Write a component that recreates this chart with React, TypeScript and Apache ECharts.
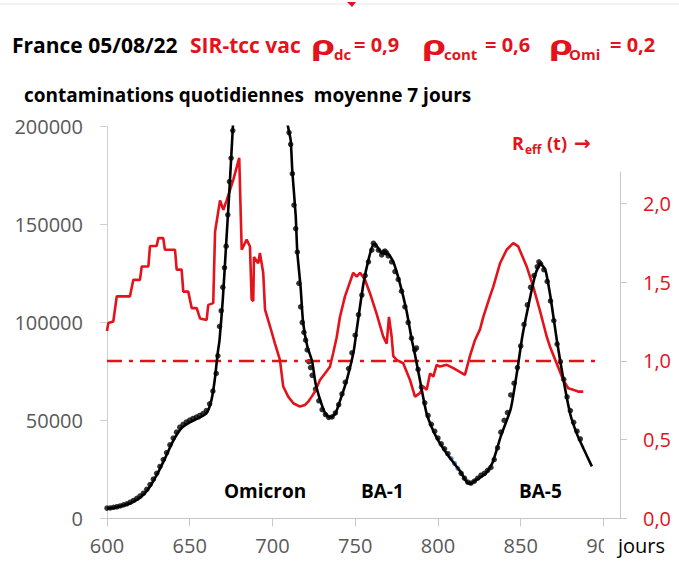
import React, { useEffect, useRef } from "react";
import * as echarts from "echarts";

// Axis ticks
const xTicks = [600, 650, 700, 750, 800, 850, 900];
const leftTicks = [0, 50000, 100000, 150000, 200000];
const rightTicks = [0, 0.5, 1, 1.5, 2];

// Model curve (black line): day, daily contaminations
const modelDays = [600, 605, 610, 615, 620, 625, 630, 635, 640, 645, 650, 655, 660, 663, 665, 667, 668, 670, 672, 674, 676, 678, 685, 695, 703, 707, 709, 711, 712, 714, 715, 717, 718.5, 721, 724, 726, 729, 732, 735, 738, 741, 745, 749, 751, 755, 758, 761, 763, 766, 770, 773, 777, 781, 784, 786, 789, 793, 797, 801, 807, 813, 817, 819, 823, 829, 833, 838, 844, 848, 851, 856, 859, 862, 865, 868, 872, 876, 880, 884, 888, 893];
const modelVals = [5000, 5500, 6500, 8000, 10500, 15000, 22000, 30500, 39500, 46000, 49000, 51000, 53500, 60000, 70000, 85000, 91000, 112000, 140000, 168000, 199000, 230000, 320000, 360000, 300000, 230000, 202000, 193000, 177000, 155000, 136000, 118000, 100000, 88000, 80000, 69000, 60000, 53500, 51500, 53500, 60500, 71000, 85000, 97000, 120000, 132000, 140000, 139000, 135500, 135000, 131000, 120000, 106000, 92000, 84000, 71000, 54000, 45000, 38500, 31000, 24500, 19000, 17500, 19500, 23000, 28500, 42000, 56000, 76000, 93000, 114000, 125000, 130000, 126500, 113000, 90000, 70000, 53000, 43000, 35500, 26500];

// Observed data (black dots)
const dotDays = [600, 602, 604, 606, 608, 610, 612, 614, 616, 618, 620, 622, 624, 626, 628, 630, 632, 634, 636, 638, 640, 642, 644, 646, 648, 650, 652, 654, 656, 658, 660, 662, 664, 666, 667, 668, 669, 670, 671, 672, 673, 674, 675, 676, 710, 711, 712, 713, 714, 715, 716, 717, 718, 719, 720, 721, 722, 723, 724, 726, 728, 730, 732, 734, 736, 738, 740, 742, 744, 746, 748, 750, 752, 754, 756, 758, 760, 761, 762, 764, 766, 767, 768, 769, 770, 772, 774, 776, 778, 780, 782, 784, 786, 787, 788, 790, 792, 794, 796, 798, 800, 802, 804, 806, 814, 816, 818, 820, 822, 824, 826, 828, 830, 832, 834, 836, 838, 840, 842, 844, 846, 848, 850, 852, 854, 856, 858, 860, 861, 862, 864, 866, 868, 870, 872, 874, 876, 878, 880, 882, 884, 886];
const dotVals = [5200, 5300, 5600, 5900, 6300, 6900, 7400, 8200, 9100, 10200, 11400, 12800, 14800, 17200, 20000, 23000, 26500, 30000, 33500, 37500, 41000, 44000, 46500, 48000, 49200, 50200, 51000, 51700, 52500, 53500, 55000, 58500, 65000, 74000, 83000, 98000, 106000, 118000, 128000, 139000, 155000, 172000, 184000, 198000, 197000, 191000, 176000, 160000, 148000, 136000, 120000, 108000, 100000, 95000, 91000, 86000, 80000, 77000, 73000, 66000, 60000, 55500, 53000, 51500, 51800, 53800, 58000, 63500, 69500, 76500, 84500, 93500, 104000, 114000, 124000, 131000, 137000, 140500, 139500, 137000, 134500, 136000, 136500, 135500, 134000, 131000, 126000, 122000, 116000, 108000, 100000, 92000, 86000, 87000, 76000, 67000, 59000, 52500, 48000, 44500, 41000, 38000, 35500, 33000, 23000, 20500, 18500, 18000, 19000, 20500, 22000, 23000, 24500, 26000, 30000, 36000, 44000, 50000, 54000, 63000, 69000, 77000, 88000, 99000, 109000, 118000, 124000, 128500, 131000, 130000, 127000, 121000, 111000, 101000, 89000, 80000, 71000, 62000, 55000, 49000, 44500, 40500];

// A few blue dots
const blueDays = [808, 810, 812];
const blueVals = [30500, 28000, 25500];

// R_eff(t) (red curve)
const reffDays = [600, 600.8, 603.8, 605.9, 613.9, 615.9, 619.9, 621, 625, 626, 630, 631, 634, 635, 641.1, 642.1, 645.1, 646.1, 649.1, 651.2, 654.2, 656.2, 660.2, 661.2, 664.2, 665.3, 668.3, 670.3, 672.3, 676.3, 679.9, 681.4, 684.4, 686.4, 687.4, 688.4, 688.8, 691.4, 692.4, 694.4, 695.5, 698.5, 701.5, 704.5, 706.5, 709.5, 712.6, 716.6, 719.6, 721.6, 723.7, 725.7, 728.7, 731.7, 734.7, 736.7, 738.8, 740.8, 743.8, 745.8, 748.8, 750.9, 752.9, 755.9, 758.9, 762.9, 766.9, 769, 770.4, 772, 773, 775, 779, 783.1, 786.1, 789.1, 791.1, 793.2, 795.2, 797.2, 799.2, 801.2, 805.3, 809.3, 816.3, 819.3, 822.4, 825.4, 827.4, 831.4, 833.4, 837.5, 841.5, 845.5, 848.5, 853.6, 857.6, 861.6, 865.7, 867.7, 871.7, 875.7, 878.7, 881.8, 884.8, 887.8];
const reffVals = [1.19, 1.24, 1.25, 1.41, 1.41, 1.515, 1.515, 1.6, 1.6, 1.73, 1.73, 1.78, 1.78, 1.706, 1.706, 1.58, 1.58, 1.44, 1.44, 1.335, 1.335, 1.27, 1.26, 1.356, 1.367, 1.82, 2.02, 1.96, 2.02, 2.15, 2.29, 1.706, 1.77, 1.727, 1.39, 1.38, 1.66, 1.62, 1.685, 1.56, 1.325, 1.22, 1.11, 1.006, 0.837, 0.773, 0.731, 0.71, 0.72, 0.741, 0.773, 0.805, 0.879, 0.92, 0.963, 1.05, 1.15, 1.28, 1.41, 1.47, 1.56, 1.535, 1.56, 1.515, 1.43, 1.3, 1.155, 1.11, 1.28, 1.155, 1.03, 1.006, 0.985, 0.879, 0.773, 0.795, 0.837, 0.816, 0.92, 0.9, 0.975, 0.964, 0.975, 0.954, 0.911, 1.03, 1.133, 1.2, 1.28, 1.41, 1.47, 1.62, 1.706, 1.748, 1.727, 1.6, 1.47, 1.32, 1.155, 1.09, 0.985, 0.879, 0.826, 0.816, 0.805, 0.805];

// Reference line R = 1
const refDays = [600, 898];
const refVals = [1, 1];

const RED = "#e3121b";
const GRAY = "#595959";
const FONT = "'Open Sans', 'Liberation Sans', sans-serif";

const zip = (a: number[], b: number[]) => a.map((v, i) => [v, b[i]]);

function txt(text: string, x: number, baseline: number, size: number, color: string, bold = true, extra: any = {}, el: any = {}) {
  return {
    type: "text",
    x,
    y: baseline - 0.38 * size,
    z: 100,
    ...el,
    style: {
      text,
      fill: color,
      fontSize: size,
      fontWeight: bold ? "bold" : "normal",
      fontFamily: FONT,
      align: "left",
      verticalAlign: "middle",
      textAlign: "left",
      textVerticalAlign: "middle",
      ...extra,
    },
  };
}

export default function App() {
  const ref = useRef<HTMLDivElement>(null);
  useEffect(() => {
    if (!ref.current) return;
    const chart = echarts.init(ref.current, undefined, { renderer: "svg" });
    const rho = { scaleX: 1.45 };
    const option: any = {
      animation: false,
      backgroundColor: "#ffffff",
      textStyle: { fontFamily: FONT },
      grid: [
        { left: 107, right: 59, top: 126.7, bottom: 45.7 },
        { left: 107, right: 59, top: 172, bottom: 45.7 },
      ],
      xAxis: [
        {
          type: "value",
          gridIndex: 0,
          min: 600,
          max: 910,
          interval: 50,
          axisLine: { show: true, lineStyle: { color: "#c8c8c8", width: 1 } },
          axisTick: { show: true, length: 8, lineStyle: { color: "#c8c8c8" }, customValues: xTicks },
          axisLabel: { color: GRAY, fontSize: 20, fontFamily: FONT, margin: 17, customValues: xTicks, formatter: (v: number) => String(v) },
          splitLine: { show: false },
        },
        {
          type: "value",
          gridIndex: 1,
          min: 600,
          max: 910,
          show: false,
          splitLine: { show: false },
        },
      ],
      yAxis: [
        {
          type: "value",
          gridIndex: 0,
          min: 0,
          max: 200000,
          interval: 50000,
          axisLine: { show: true, lineStyle: { color: "#d0d0d0", width: 1 } },
          axisTick: { show: true, length: 7, lineStyle: { color: "#d0d0d0" }, customValues: leftTicks },
          axisLabel: { color: GRAY, fontSize: 20, fontFamily: FONT, margin: 24, customValues: leftTicks, formatter: (v: number) => String(v) },
          splitLine: { show: false },
        },
        {
          type: "value",
          gridIndex: 1,
          position: "right",
          min: 0,
          max: 2.2,
          interval: 0.5,
          axisLine: { show: true, lineStyle: { color: "#c8c8c8", width: 1 } },
          axisTick: { show: true, length: 7, lineStyle: { color: "#c8c8c8" }, customValues: rightTicks },
          axisLabel: {
            color: RED,
            fontSize: 20,
            fontFamily: FONT,
            margin: 23,
            customValues: rightTicks,
            formatter: (v: number) => v.toFixed(1).replace(".", ","),
          },
          splitLine: { show: false },
        },
      ],
      series: [
        {
          type: "line",
          name: "ref",
          xAxisIndex: 1,
          yAxisIndex: 1,
          data: zip(refDays, refVals),
          showSymbol: false,
          symbol: "none",
          lineStyle: { color: RED, width: 2.5, type: [15, 7, 4, 7] },
          silent: true,
        },
        {
          type: "line",
          name: "Reff",
          xAxisIndex: 1,
          yAxisIndex: 1,
          data: zip(reffDays, reffVals),
          showSymbol: false,
          symbol: "none",
          clip: false,
          lineStyle: { color: RED, width: 2.6 },
          silent: true,
        },
        {
          type: "scatter",
          name: "data",
          xAxisIndex: 0,
          yAxisIndex: 0,
          data: zip(dotDays, dotVals),
          symbolSize: 5.5,
          itemStyle: { color: "#000000" },
          clip: true,
          silent: true,
        },
        {
          type: "scatter",
          name: "blue",
          xAxisIndex: 0,
          yAxisIndex: 0,
          data: zip(blueDays, blueVals),
          symbolSize: 5,
          itemStyle: { color: "#2f6fb0" },
          clip: true,
          silent: true,
        },
        {
          type: "line",
          name: "model",
          xAxisIndex: 0,
          yAxisIndex: 0,
          data: zip(modelDays, modelVals),
          showSymbol: false,
          symbol: "none",
          smooth: 0.2,
          clip: true,
          lineStyle: { color: "#000000", width: 2.6 },
          silent: true,
        },
      ],
      graphic: [
        { type: "line", z: 100, shape: { x1: 0, y1: 4, x2: 679, y2: 4 }, style: { stroke: "#e4e4e4", lineWidth: 1 } },
        { type: "polygon", z: 100, shape: { points: [[347, 2], [356, 2], [352, 7]] }, style: { fill: RED } },
        txt("France 05/08/22", 12, 53, 21, "#000000"),
        txt("SIR-tcc vac", 190, 53, 21, RED),
        txt("ρ", 311, 55, 27, RED, true, {}, rho),
        txt("dc", 334, 60, 15, RED),
        txt("= 0,9", 354, 52, 20, RED),
        txt("ρ", 422, 55, 27, RED, true, {}, rho),
        txt("cont", 444, 60, 15, RED),
        txt("= 0,6", 485, 52, 20, RED),
        txt("ρ", 549, 55, 27, RED, true, {}, rho),
        txt("Omi", 569, 60, 15, RED),
        txt("= 0,2", 610, 52, 20, RED),
        txt("contaminations quotidiennes  moyenne 7 jours", 24, 102, 19, "#000000"),
        txt("R", 512, 150, 18, RED),
        txt("eff", 525, 154, 12, RED),
        txt("(t)", 547, 150, 18, RED),
        txt("→", 574, 151, 20, RED, true, { fontFamily: "'DejaVu Sans', sans-serif" }),
        txt("Omicron", 224, 498, 19, "#000000"),
        txt("BA-1", 361, 498, 19, "#000000"),
        txt("BA-5", 519, 498, 19, "#000000"),
        {
          type: "rect",
          z: 99,
          shape: { x: 604, y: 534, width: 75, height: 28 },
          style: { fill: "#ffffff" },
        },
        txt("jours", 618, 553, 20, "#000000", false),
      ],
    };
    chart.setOption(option);
    return () => chart.dispose();
  }, []);
  return (
    <div
      ref={ref}
      style={{ position: "fixed", left: 0, top: 0, width: 679, height: 564, background: "#fff" }}
    />
  );
}
